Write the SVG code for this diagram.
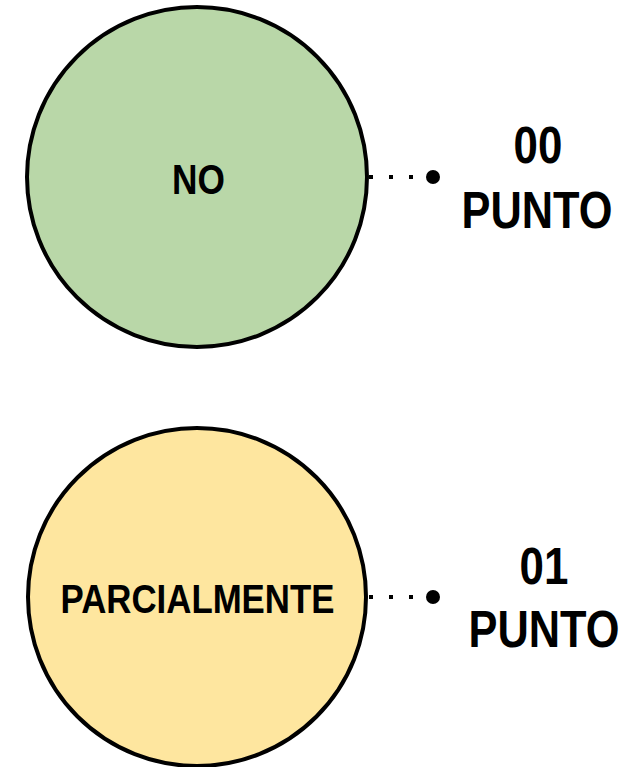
<svg xmlns="http://www.w3.org/2000/svg" width="624" height="767" viewBox="0 0 624 767">
<style>
.c{stroke:#000;stroke-width:4}
.t{font-family:"Liberation Sans",Arial,sans-serif;font-weight:bold;fill:#000;text-anchor:middle}
.d{stroke:#000;stroke-width:4;stroke-dasharray:4 16;fill:none}
</style>
<rect width="624" height="767" fill="#fff"/>
<g id="connectors">
<line class="d" x1="369" y1="177" x2="433" y2="177"/>
<circle cx="433" cy="177" r="7" fill="#000"/>
<line class="d" x1="369" y1="597" x2="433" y2="597"/>
<circle cx="433" cy="597" r="7" fill="#000"/>
</g>
<g id="node-no">
<circle class="c" cx="197" cy="177" r="170" fill="#b9d7a8"/>
<text class="t" transform="translate(198.5,194) scale(0.84,1)" font-size="42">NO</text>
</g>
<g id="node-parcialmente">
<circle class="c" cx="197" cy="597" r="169" fill="#fee69f"/>
<text class="t" transform="translate(197.5,613) scale(0.87,1)" font-size="40">PARCIALMENTE</text>
</g>
<g id="label-00">
<text class="t" transform="translate(538,163) scale(0.86,1)" font-size="51">00</text>
<text class="t" transform="translate(537,228) scale(0.85,1)" font-size="51">PUNTO</text>
</g>
<g id="label-01">
<text class="t" transform="translate(544,584) scale(0.86,1)" font-size="51">01</text>
<text class="t" transform="translate(544,647) scale(0.85,1)" font-size="51">PUNTO</text>
</g>
</svg>
